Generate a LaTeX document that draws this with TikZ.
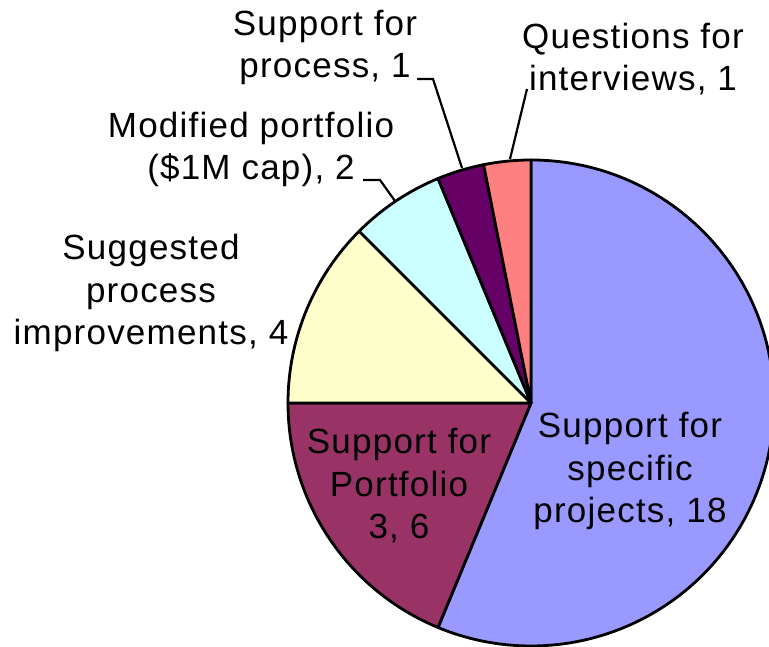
\documentclass[tikz,border=0pt]{standalone}
\usepackage{fontspec}
\setmainfont{Liberation Sans}[LetterSpace=3.5]
\definecolor{cproj}{HTML}{9999FF}
\definecolor{cportf}{HTML}{993366}
\definecolor{csugg}{HTML}{FFFFCC}
\definecolor{cmodif}{HTML}{CCFFFF}
\definecolor{cproc}{HTML}{660066}
\definecolor{cquest}{HTML}{FF8080}
\begin{document}
\begin{tikzpicture}[x=1pt,y=1pt,
  slice/.style={draw=black,line width=2.8pt,line join=round},
  lbl/.style={inner sep=0pt,align=center,anchor=base,font=\fontsize{35}{42.5}\selectfont},
  leader/.style={draw=black,line width=2.2pt}]
\useasboundingbox (0,0) rectangle (769,647);
\clip (0,0) rectangle (769,647);
\coordinate (C) at (531,244);
\def\R{243}
\filldraw[slice,fill=cproj]  (C) -- ++(90:\R) arc[start angle=90,end angle=-112.5,radius=\R] -- cycle;
\filldraw[slice,fill=cportf] (C) -- ++(-112.5:\R) arc[start angle=-112.5,end angle=-180,radius=\R] -- cycle;
\filldraw[slice,fill=csugg]  (C) -- ++(180:\R) arc[start angle=180,end angle=135,radius=\R] -- cycle;
\filldraw[slice,fill=cmodif] (C) -- ++(135:\R) arc[start angle=135,end angle=112.5,radius=\R] -- cycle;
\filldraw[slice,fill=cproc]  (C) -- ++(112.5:\R) arc[start angle=112.5,end angle=101.25,radius=\R] -- cycle;
\filldraw[slice,fill=cquest] (C) -- ++(101.25:\R) arc[start angle=101.25,end angle=90,radius=\R] -- cycle;

\node[lbl] (proc) at (325,569) {Support for\\process, 1};
\node[lbl] (quest) at (633,556) {Questions for\\interviews, 1};
\node[lbl] (modif) at (251,467) {Modified portfolio\\(\$1M cap), 2};
\node[lbl] (sugg) at (151,302) {Suggested\\process\\improvements, 4};
\node[lbl] (portf) at (399,108) {Support for\\Portfolio\\3, 6};
\node[lbl] (proj) at (630,124) {Support for\\specific\\projects, 18};

\coordinate (procA) at (417,568);
\coordinate (procB) at (433,568);
\coordinate (procE) at (462,479);
\coordinate (questA) at (527,558);
\coordinate (questE) at (510,488);
\coordinate (modifA) at (363,467);
\coordinate (modifB) at (380,467);
\coordinate (modifE) at (395,446);
\draw[leader] (procA) -- (procB) -- (procE);
\draw[leader] (questA) -- (questE);
\draw[leader] (modifA) -- (modifB) -- (modifE);
\end{tikzpicture}
\end{document}
